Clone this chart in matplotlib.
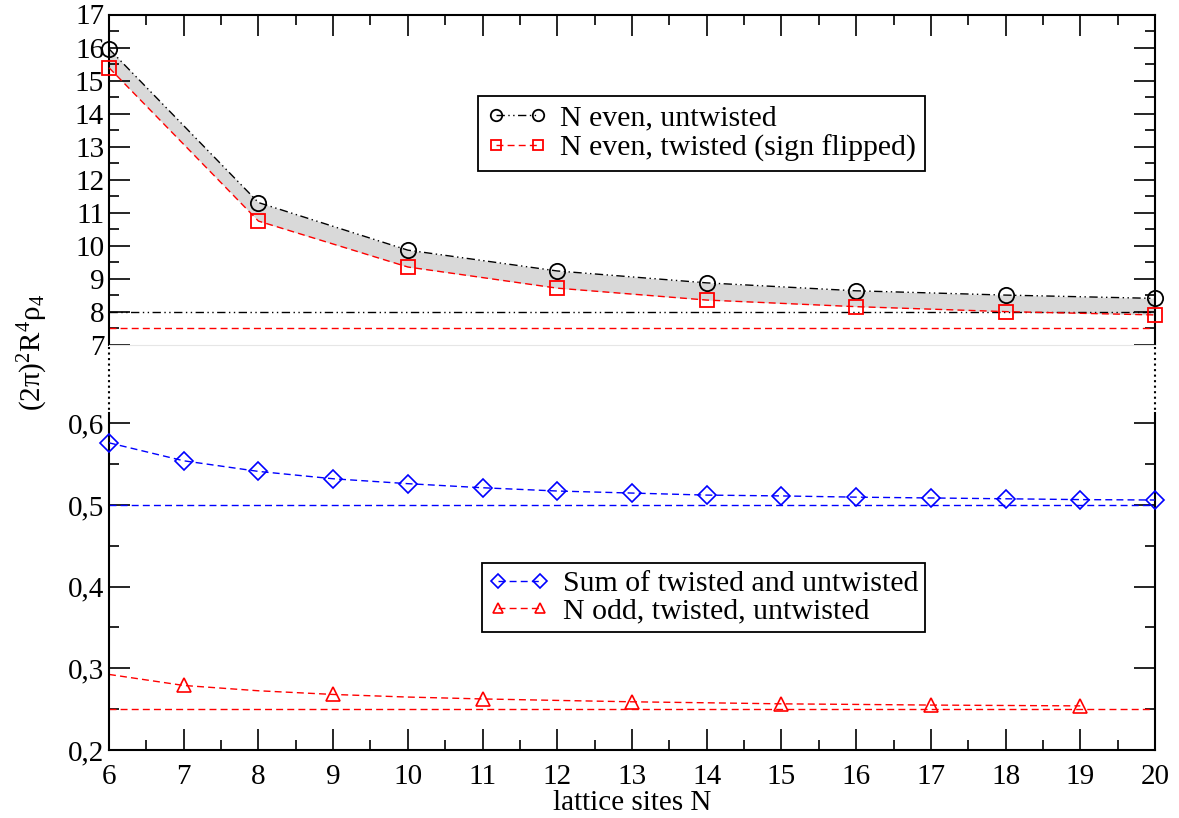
import matplotlib
matplotlib.use('Agg')
import matplotlib.pyplot as plt
from matplotlib.lines import Line2D
import matplotlib.ticker as ticker

plt.rcParams['font.family'] = ['Liberation Serif', 'DejaVu Serif']
plt.rcParams['mathtext.fontset'] = 'custom'
plt.rcParams['mathtext.rm'] = 'Liberation Serif'
plt.rcParams['mathtext.default'] = 'regular'

# N even, upper panel
N_even = [6, 8, 10, 12, 14, 16, 18, 20]
untwisted_even = [15.96, 11.31, 9.87, 9.24, 8.88, 8.64, 8.51, 8.41]
twisted_even = [15.39, 10.75, 9.36, 8.72, 8.36, 8.16, 8.01, 7.91]
limit_untwisted = 8.0
limit_twisted = 7.5

# lower panel
N_all = [6, 7, 8, 9, 10, 11, 12, 13, 14, 15, 16, 17, 18, 19, 20]
sum_vals = [0.576, 0.554, 0.541, 0.532, 0.526, 0.521, 0.517, 0.5145, 0.512,
            0.511, 0.5095, 0.5085, 0.5075, 0.5065, 0.506]
N_odd = [7, 9, 11, 13, 15, 17, 19]
odd_vals = [0.279, 0.268, 0.2625, 0.259, 0.2565, 0.255, 0.254]
N_odd_line = [6, 7, 8, 9, 10, 11, 12, 13, 14, 15, 16, 17, 18, 19]
odd_line = [0.2925, 0.279, 0.2725, 0.268, 0.2648, 0.2625, 0.2607, 0.259,
            0.2578, 0.2565, 0.2558, 0.255, 0.2545, 0.254]
limit_sum = 0.5
limit_odd = 0.25

upper_yticks = [7, 8, 9, 10, 11, 12, 13, 14, 15, 16, 17]
lower_yticks = [0.2, 0.3, 0.4, 0.5, 0.6]
lower_yticklabels = ['0,2', '0,3', '0,4', '0,5', '0,6']
xticks = list(range(6, 21))

W, H = 1179, 818
fig = plt.figure(figsize=(W / 100, H / 100), dpi=100)

x0, x1 = 109 / W, 1155 / W
ax_top = fig.add_axes([x0, 1 - 345 / H, x1 - x0, (345 - 14.5) / H])
ax_bot = fig.add_axes([x0, 1 - 750 / H, x1 - x0, (750 - 413) / H])

dash_dot_dot = (0, (6, 2.5, 1, 2.5, 1, 2.5))
dashed = (0, (5, 3))
tick_fs = 21
leg_fs = 21.5

# upper panel
ax_top.fill_between(N_even, untwisted_even, twisted_even, color='#d9d9d9', lw=0)
ax_top.plot(N_even, untwisted_even, color='black', ls=dash_dot_dot, lw=1.0,
            marker='o', ms=11, mfc='none', mec='black', mew=1.3,
            label='N even, untwisted', clip_on=False, zorder=3)
ax_top.plot(N_even, twisted_even, color='red', ls=dashed, lw=1.0,
            marker='s', ms=10, mfc='none', mec='red', mew=1.3,
            label='N even, twisted (sign flipped)', clip_on=False, zorder=3)
ax_top.plot([N_all[0], N_all[-1]], [limit_untwisted] * 2, color='black', ls=dash_dot_dot, lw=1.0)
ax_top.plot([N_all[0], N_all[-1]], [limit_twisted] * 2, color='red', ls=dashed, lw=1.0)

ax_top.set_xlim(6, 20)
ax_top.set_ylim(7, 17)
ax_top.set_yticks(upper_yticks)
ax_top.yaxis.set_minor_locator(ticker.MultipleLocator(0.5))
ax_top.set_xticks(xticks)
ax_top.xaxis.set_minor_locator(ticker.MultipleLocator(0.5))
ax_top.tick_params(axis='x', which='both', direction='in', top=True, bottom=False,
                   labeltop=False, labelbottom=False)
ax_top.tick_params(axis='y', which='both', direction='in', left=True, right=True,
                   labelsize=tick_fs)
ax_top.tick_params(which='major', length=15, width=1.2)
ax_top.tick_params(which='minor', length=7.5, width=1.2)
for s in ['left', 'right', 'top']:
    ax_top.spines[s].set_linewidth(1.5)
ax_top.spines['bottom'].set_color('#e6e6e6')
ax_top.spines['bottom'].set_linewidth(0.8)

leg1 = ax_top.legend(loc='upper left', bbox_to_anchor=(478 / W, 1 - 96 / H),
                     bbox_transform=fig.transFigure, fontsize=leg_fs, numpoints=2,
                     handlelength=2.0, markerscale=0.75, fancybox=False,
                     edgecolor='black', framealpha=1, borderaxespad=0,
                     handletextpad=0.45, labelspacing=0.1, borderpad=0.3)
leg1.get_frame().set_linewidth(1.3)

# lower panel
ax_bot.plot(N_all, sum_vals, color='blue', ls=dashed, lw=1.0,
            marker='D', ms=9, mfc='none', mec='blue', mew=1.2,
            label='Sum of twisted and untwisted', clip_on=False, zorder=3)
ax_bot.plot(N_odd_line, odd_line, color='red', ls=dashed, lw=1.0, zorder=2)
ax_bot.plot(N_odd, odd_vals, color='red', ls='none',
            marker='^', ms=10, mfc='none', mec='red', mew=1.2, zorder=3)
ax_bot.plot([N_all[0], N_all[-1]], [limit_sum] * 2, color='blue', ls=dashed, lw=1.0)
ax_bot.plot([N_all[0], N_all[-1]], [limit_odd] * 2, color='red', ls=dashed, lw=1.0)

ax_bot.set_xlim(6, 20)
ax_bot.set_ylim(0.2, 0.6125)
ax_bot.set_yticks(lower_yticks)
ax_bot.set_yticklabels(lower_yticklabels)
ax_bot.yaxis.set_minor_locator(ticker.MultipleLocator(0.05))
ax_bot.set_xticks(xticks)
ax_bot.xaxis.set_minor_locator(ticker.MultipleLocator(0.5))
ax_bot.tick_params(axis='x', which='both', direction='in', top=False, bottom=True,
                   labelsize=tick_fs, pad=10)
ax_bot.tick_params(axis='y', which='both', direction='in', left=True, right=True,
                   labelsize=tick_fs)
ax_bot.tick_params(which='major', length=15, width=1.2)
ax_bot.tick_params(which='minor', length=7.5, width=1.2)
for s in ['left', 'right', 'bottom']:
    ax_bot.spines[s].set_linewidth(1.5)
ax_bot.spines['top'].set_visible(False)
ax_bot.set_xlabel('lattice sites N', fontsize=21, labelpad=0)

odd_handle = Line2D([], [], color='red', ls=dashed, lw=1.0, marker='^', ms=10,
                    mfc='none', mec='red', mew=1.2)
handles, labels = ax_bot.get_legend_handles_labels()
handles.append(odd_handle)
labels.append('N odd, twisted, untwisted')
leg2 = ax_bot.legend(handles, labels, loc='upper left',
                     bbox_to_anchor=(482 / W, 1 - 563 / H),
                     bbox_transform=fig.transFigure, fontsize=leg_fs, numpoints=2,
                     handlelength=2.0, markerscale=0.75, fancybox=False,
                     edgecolor='black', framealpha=1, borderaxespad=0,
                     handletextpad=0.45, labelspacing=0.0, borderpad=0.25)
leg2.get_frame().set_linewidth(1.3)

# dotted connectors across the axis break
for xf in (x0, x1):
    fig.add_artist(Line2D([xf, xf], [1 - 347 / H, 1 - 413 / H], transform=fig.transFigure,
                          color='black', ls=':', lw=1.5))

fig.text(33 / W, 1 - 352 / H, '(2π)$^2$R$^4$ρ$_4$', rotation=90, ha='center',
         va='center', fontsize=21)

plt.savefig('out.png', dpi=100)
